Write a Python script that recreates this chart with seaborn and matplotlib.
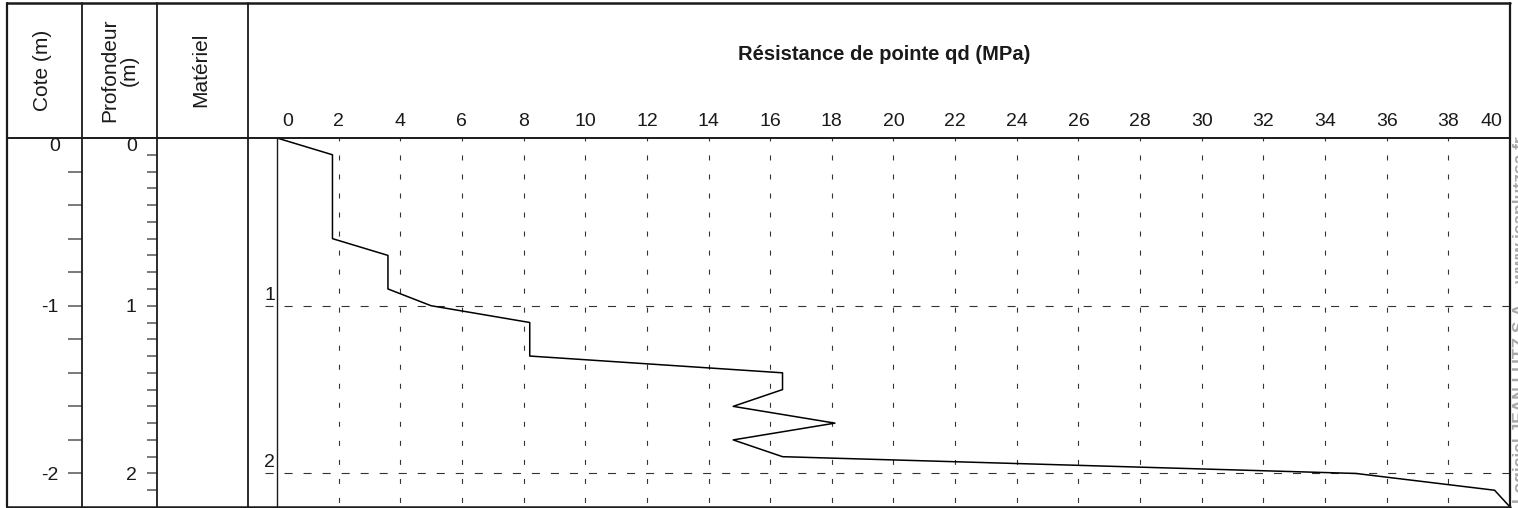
import numpy as np
import matplotlib
matplotlib.use("Agg")
import matplotlib.pyplot as plt
from matplotlib.lines import Line2D
import seaborn as sns

# ---------------- data ----------------
depth = [0.0, 0.1, 0.6, 0.7, 0.9, 1.0, 1.1, 1.3, 1.4, 1.5, 1.6, 1.7, 1.8, 1.9, 2.0, 2.1, 2.2]
qd = [0.0, 1.8, 1.8, 3.6, 3.6, 5.0, 8.2, 8.2, 16.4, 16.4, 14.8, 18.1, 14.8, 16.4, 35.0, 39.5, 40.0]
qd_ticks = list(range(0, 41, 2))
cote_major = [-1, -2]
cote_minor = [-0.2, -0.4, -0.6, -0.8, -1.2, -1.4, -1.6, -1.8, -2.0]
prof_major = [1, 2]
prof_minor = [0.1, 0.2, 0.3, 0.4, 0.5, 0.6, 0.7, 0.8, 0.9, 1.1, 1.2, 1.3, 1.4,
              1.5, 1.6, 1.7, 1.8, 1.9, 2.1]
layer_marks = [1, 2]
headers = ["Cote (m)", "Profondeur\n(m)", "Matériel"]
title = "Résistance de pointe qd (MPa)"
watermark = "Logiciel JEAN LUTZ S.A. - www.jeanlutzsa.fr"

# ---------------- style ----------------
sns.set_theme(style="white")
plt.rcParams["font.family"] = ["Liberation Sans", "DejaVu Sans"]
plt.rcParams["lines.scale_dashes"] = False

W, H = 1518, 508
fig = plt.figure(figsize=(W / 100, H / 100), dpi=100)
fig.patch.set_facecolor("white")


def fx(px):
    return px / W


def fy(py):
    return 1 - py / H


TOP, HDR, BOT = 3, 138, 507
C0, C1, C2, C3, C4 = 7, 82, 157, 248, 1510
FS = 14
DARK = "#1a1a1a"


def add_axes(x0, x1):
    ax = fig.add_axes([fx(x0), fy(BOT), fx(x1) - fx(x0), (BOT - HDR) / H])
    ax.set_facecolor("none")
    for s in ax.spines.values():
        s.set_visible(False)
    return ax


# ---- Cote column ----
ax_c = add_axes(C1, C2)
ax_c.set_ylim(-2.2, 0)
ax_c.set_xticks([])
ax_c.set_yticks(cote_major)
ax_c.set_yticklabels([str(v) for v in cote_major])
ax_c.set_yticks(cote_minor, minor=True)
ax_c.tick_params(axis="y", which="both", direction="out", length=10, width=1.1,
                 color="#555555", left=True, labelsize=FS, pad=7, labelcolor=DARK)
ax_c.text(-0.29, 0, "0", transform=ax_c.get_yaxis_transform(), ha="right", va="top",
          fontsize=FS, color=DARK)

# ---- Profondeur column ----
ax_p = add_axes(C2, C3)
ax_p.set_ylim(2.2, 0)
ax_p.set_xticks([])
ax_p.set_yticks(prof_major)
ax_p.set_yticklabels([str(v) for v in prof_major])
ax_p.set_yticks(prof_minor, minor=True)
ax_p.tick_params(axis="y", which="both", direction="out", length=7.5, width=1.1,
                 color="#555555", left=True, labelsize=FS, pad=7, labelcolor=DARK)
ax_p.text(-0.22, 0, "0", transform=ax_p.get_yaxis_transform(), ha="right", va="top",
          fontsize=FS, color=DARK)

# ---- main plot ----
ax = add_axes(C3, C4)
ax.set_ylim(2.2, 0)
ax.set_xlim(-0.94, 40)
ax.set_yticks([])
ax.xaxis.tick_top()
ax.set_xticks(qd_ticks)
labels = [str(v) for v in qd_ticks]
labels[0] = ""
labels[-1] = ""
ax.set_xticklabels(labels)
ax.tick_params(axis="x", which="both", length=0, labelsize=FS, pad=6, labelcolor=DARK)
ylab = 1.0 + 8.5 / (BOT - HDR)
ax.text(0.35, ylab, str(qd_ticks[0]), transform=ax.get_xaxis_transform(), ha="center",
        va="bottom", fontsize=FS, color=DARK)
ax.text(39.4, ylab, str(qd_ticks[-1]), transform=ax.get_xaxis_transform(), ha="center",
        va="bottom", fontsize=FS, color=DARK)

# grid
ax.vlines(qd_ticks[1:-1], 0, 2.2, colors="#333333", linewidth=0.8,
          linestyles=[(1.5, (3.6, 10.1))])
ax.hlines(layer_marks, -0.4, 40, colors="#333333", linewidth=0.8,
          linestyles=[(0, (5.8, 7.9))])
ax.axvline(0, color=DARK, linewidth=1.0)
for m in layer_marks:
    ax.text(-0.42, m - 0.012, str(m), ha="left", va="bottom", fontsize=FS, color=DARK)

sns.lineplot(x=qd, y=depth, orient="y", estimator=None, sort=False,
             color="black", linewidth=1.1, ax=ax, legend=False)
ax.set_xlabel("")
ax.set_ylabel("")
ax.set_ylim(2.2, 0)
ax.set_xlim(-0.94, 40)


# ---------------- table frame ----------------
def hline(py, x0, x1, lw=1.6):
    fig.add_artist(Line2D([fx(x0), fx(x1)], [fy(py), fy(py)], color=DARK, lw=lw))


def vline(px, y0, y1, lw=1.3):
    fig.add_artist(Line2D([fx(px), fx(px)], [fy(y0), fy(y1)], color=DARK, lw=lw))


hline(TOP, C0, C4, lw=1.8)
hline(HDR, C0, C4, lw=1.4)
hline(BOT, C0, C4, lw=1.8)
vline(C0, TOP, BOT, lw=1.6)
vline(C4, TOP, BOT, lw=1.6)
for c in (C1, C2, C3):
    vline(c, TOP, BOT)

# headers
centers = [(C0 + C1) / 2 - 2, (C1 + C2) / 2, (C2 + C3) / 2 - 2]
for h, cx in zip(headers, centers):
    fig.text(fx(cx), fy(70), h, rotation=90, ha="center", va="center",
             fontsize=15, color=DARK, linespacing=1.0)
fig.text(fx((C3 + C4) / 2 + 5), fy(55), title, ha="center", va="center",
         fontsize=14.5, fontweight="bold", color=DARK)

# watermark, cut by the right edge as in the original
fig.text(fx(1520), fy(320), watermark, rotation=90, ha="center", va="center",
         fontsize=12.5, fontweight="bold", color="#a8a8a8")

fig.savefig("out.png", dpi=100)
